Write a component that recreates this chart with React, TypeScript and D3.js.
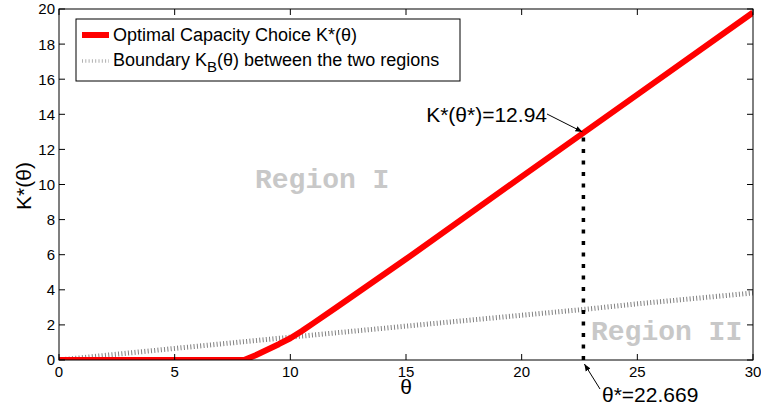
import React from "react";
import * as d3 from "d3";

const thetaK = [0, 8, 8.5, 9, 9.5, 10, 10.5, 11, 12, 15, 20, 22.669, 25, 30];
const kStar = [0, 0, 0.27, 0.58, 0.9, 1.24, 1.65, 2.1, 3.0, 5.75, 10.45, 12.94, 15.12, 19.8];
const thetaB = [0, 5, 10, 15, 20, 22.669, 25, 30];
const kBoundary = [0, 0.66, 1.3, 1.93, 2.55, 2.88, 3.2, 3.82];
const xTicks = [0, 5, 10, 15, 20, 25, 30];
const yTicks = [0, 2, 4, 6, 8, 10, 12, 14, 16, 18, 20];
const thetaStar = 22.669;
const kAtStar = 12.94;

const W = 761;
const H = 413;
const sans = "'Liberation Sans', Arial, sans-serif";
const mono = "'Liberation Mono', 'Courier New', monospace";

export default function App() {
  const x = d3.scaleLinear().domain([0, 30]).range([59, 753]);
  const y = d3.scaleLinear().domain([0, 20]).range([360, 9]);
  const x0 = x.range()[0], x1 = x.range()[1];
  const y0 = y.range()[0], y1 = y.range()[1];

  const line = d3.line<[number, number]>().x((d) => x(d[0])).y((d) => y(d[1]));
  const redPath = line(thetaK.map((t, i) => [t, kStar[i]] as [number, number])) || "";
  const grayPath = line(thetaB.map((t, i) => [t, kBoundary[i]] as [number, number])) || "";

  const tipX = x(thetaStar);
  const tipY = y(kAtStar);
  const tickLen = 6;

  return (
    <svg width={W} height={H} style={{ position: "absolute", left: 0, top: 0, background: "#fff" }}>
      <defs>
        <marker id="ah" viewBox="0 0 10 10" refX="10" refY="5" markerWidth="7" markerHeight="7" orient="auto" markerUnits="userSpaceOnUse">
          <path d="M0,1 L10,5 L0,9 Z" fill="#000" />
        </marker>
        <clipPath id="plot">
          <rect x={x0} y={y1} width={x1 - x0} height={y0 - y1} />
        </clipPath>
      </defs>
      <rect x={0} y={0} width={W} height={H} fill="#fff" />

      {/* Region labels */}
      <text x={255} y={188} fontFamily={mono} fontWeight="bold" fontSize={28} fill="#c8c8c8">Region I</text>
      <text x={591} y={340} fontFamily={mono} fontWeight="bold" fontSize={28} fill="#c8c8c8">Region II</text>

      {/* Boundary and optimal choice */}
      <g clipPath="url(#plot)">
        <path d={grayPath} fill="none" stroke="#808080" strokeWidth={5} strokeDasharray="1,2.3" />
        <path d={redPath} fill="none" stroke="#ff0000" strokeWidth={6} strokeLinejoin="round" />
      </g>

      {/* Dashed vertical */}
      <line x1={tipX} x2={tipX} y1={y(0)} y2={tipY} stroke="#000" strokeWidth={3.5} strokeDasharray="4,7.5" />

      {/* Axes box */}
      <rect x={x0} y={y1} width={x1 - x0} height={y0 - y1} fill="none" stroke="#000" strokeWidth={1} />
      {xTicks.map((t) => (
        <g key={"x" + t}>
          <line x1={x(t)} x2={x(t)} y1={y0} y2={y0 - tickLen} stroke="#000" />
          <line x1={x(t)} x2={x(t)} y1={y1} y2={y1 + tickLen} stroke="#000" />
          <text x={x(t)} y={377} textAnchor="middle" fontFamily={sans} fontSize={15} fill="#000">{t}</text>
        </g>
      ))}
      {yTicks.map((t) => (
        <g key={"y" + t}>
          <line x1={x0} x2={x0 + tickLen} y1={y(t)} y2={y(t)} stroke="#000" />
          <line x1={x1} x2={x1 - tickLen} y1={y(t)} y2={y(t)} stroke="#000" />
          <text x={55} y={y(t)} dy="0.36em" textAnchor="end" fontFamily={sans} fontSize={15} fill="#000">{t}</text>
        </g>
      ))}

      {/* Axis labels */}
      <text x={x(15)} y={394} textAnchor="middle" fontFamily={sans} fontSize={21} fill="#000">θ</text>
      <text transform={`translate(31,186) rotate(-90)`} textAnchor="middle" fontFamily={sans} fontSize={21} fill="#000">K*(θ)</text>

      {/* Annotations */}
      <text x={547} y={122} textAnchor="end" fontFamily={sans} fontSize={21} fill="#000">K*(θ*)=12.94</text>
      <line x1={547} y1={114} x2={tipX - 1} y2={tipY - 1} stroke="#000" strokeWidth={1} markerEnd="url(#ah)" />
      <text x={602} y={402} fontFamily={sans} fontSize={21} fill="#000">θ*=22.669</text>
      <line x1={600} y1={389} x2={tipX + 1} y2={y(0) + 4} stroke="#000" strokeWidth={1} markerEnd="url(#ah)" />

      {/* Legend */}
      <rect x={76} y={19} width={384} height={62} fill="#fff" stroke="#000" strokeWidth={1} />
      <line x1={82} x2={109} y1={35} y2={35} stroke="#ff0000" strokeWidth={6} />
      <text x={113} y={41} fontFamily={sans} fontSize={18} fill="#000">Optimal Capacity Choice K*(θ)</text>
      <line x1={82} x2={109} y1={61} y2={61} stroke="#b0b0b0" strokeWidth={3.5} strokeDasharray="1,2.3" />
      <text x={113} y={66} fontFamily={sans} fontSize={18} fill="#000">
        Boundary K<tspan fontSize={15} dy={6}>B</tspan><tspan dy={-6}>(θ) between the two regions</tspan>
      </text>
    </svg>
  );
}
